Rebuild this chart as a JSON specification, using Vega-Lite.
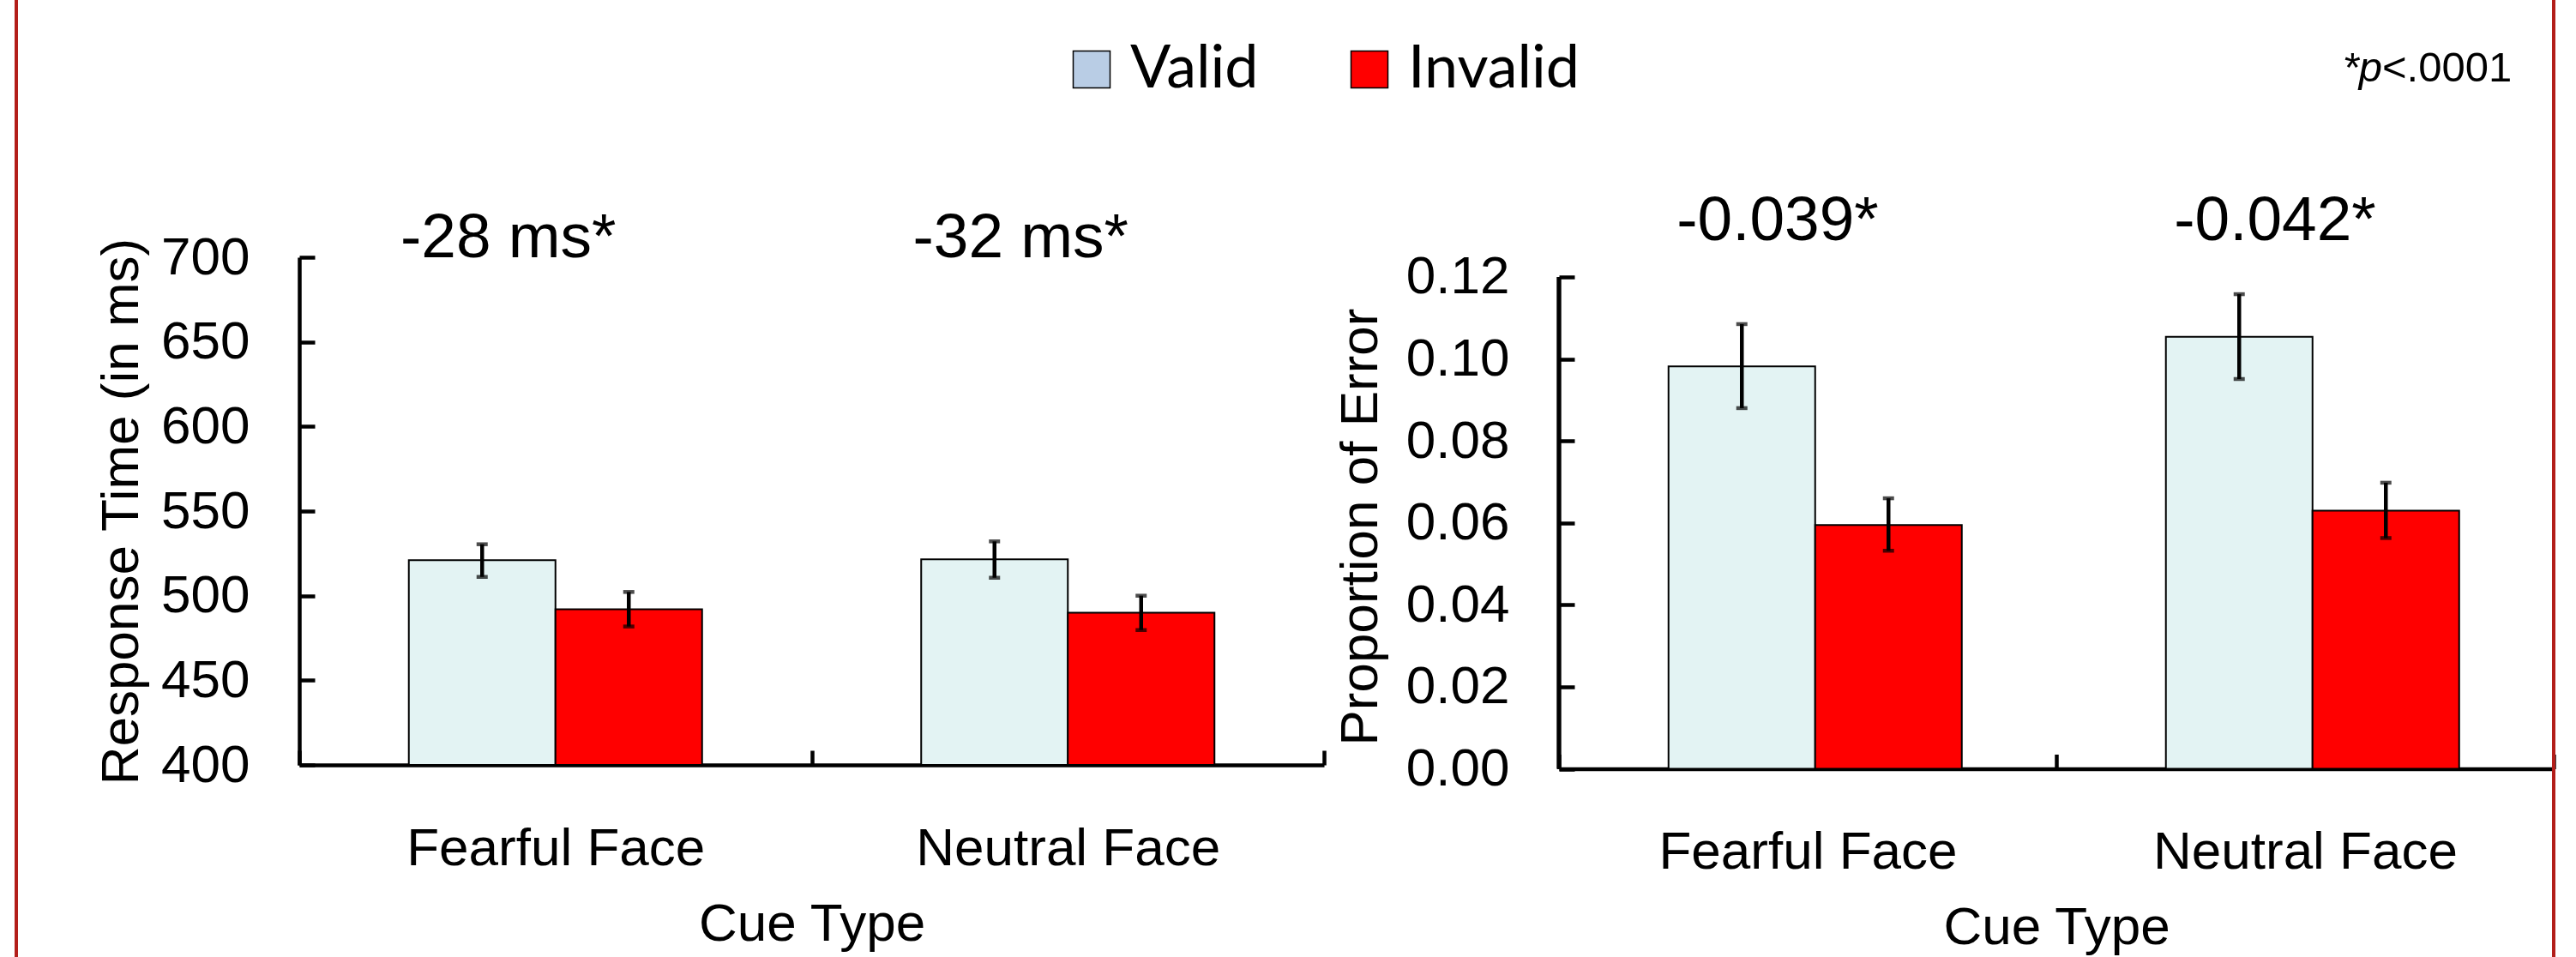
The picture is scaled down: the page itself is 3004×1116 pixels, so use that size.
{
  "$schema": "https://vega.github.io/schema/vega-lite/v6.json",
  "background": "white",
  "autosize": {"type": "pad"},
  "padding": {"left": 17, "top": -40, "right": 28, "bottom": -40},
  "bounds": "flush",
  "spacing": 274,
  "config": {
    "view": {"stroke": null},
    "font": "Liberation Sans",
    "legend": {"strokeWidth": 4},
    "axis": {
      "labelFont": "Liberation Sans",
      "titleFont": "Liberation Sans",
      "labelFontSize": 62,
      "titleFontSize": 62,
      "labelColor": "black",
      "titleColor": "black",
      "titleFontWeight": "normal",
      "domainColor": "black",
      "tickColor": "black",
      "domainWidth": 4.5,
      "tickWidth": 4.5,
      "labelLimit": 0,
      "grid": false
    }
  },
  "datasets": {
    "rt": [
      {"cue": "Fearful Face", "validity": "Valid", "mean": 521, "lo": 511.1, "hi": 530.4},
      {"cue": "Fearful Face", "validity": "Invalid", "mean": 492, "lo": 481.8, "hi": 502.2},
      {"cue": "Neutral Face", "validity": "Valid", "mean": 521.5, "lo": 510.6, "hi": 532.1},
      {"cue": "Neutral Face", "validity": "Invalid", "mean": 490, "lo": 479.7, "hi": 500.0}
    ],
    "err": [
      {"cue": "Fearful Face", "validity": "Valid", "mean": 0.0982, "lo": 0.0880, "hi": 0.1085},
      {"cue": "Fearful Face", "validity": "Invalid", "mean": 0.0595, "lo": 0.0532, "hi": 0.0660},
      {"cue": "Neutral Face", "validity": "Valid", "mean": 0.1054, "lo": 0.0951, "hi": 0.1158},
      {"cue": "Neutral Face", "validity": "Invalid", "mean": 0.0630, "lo": 0.0563, "hi": 0.0698}
    ],
    "rtNotes": [
      {"cue": "Fearful Face", "label": "-28 ms*"},
      {"cue": "Neutral Face", "label": "-32 ms*"}
    ],
    "errNotes": [
      {"cue": "Fearful Face", "label": "-0.039*"},
      {"cue": "Neutral Face", "label": "-0.042*"}
    ],
    "note": [
      {"a": "*p", "b": "<.0001"}
    ]
  },
  "hconcat": [
    {
      "width": 1195,
      "height": 592,
      "data": {"name": "rt"},
      "layer": [
        {
          "mark": {"type": "bar", "stroke": "black", "strokeWidth": 2},
          "encoding": {
            "x": {
              "field": "cue", "type": "nominal",
              "scale": {"domain": ["Fearful Face", "Neutral Face"], "paddingInner": 0, "paddingOuter": 0},
              "axis": {"title": "Cue Type", "labelAngle": 0, "tickBand": "extent", "tickSize": -17, "labelPadding": 84, "titlePadding": 27}
            },
            "xOffset": {
              "field": "validity", "type": "nominal",
              "scale": {"domain": ["Valid", "Invalid"], "paddingOuter": 0.747, "paddingInner": 0}
            },
            "y": {
              "field": "mean", "type": "quantitative",
              "scale": {"domain": [400, 700], "nice": false, "zero": false},
              "axis": {"title": "Response Time (in ms)", "values": [400, 450, 500, 550, 600, 650, 700], "tickSize": -18, "labelPadding": 76, "titlePadding": 14}
            },
            "y2": {"datum": 400},
            "color": {
              "condition": {"test": "datum.validity === 'Valid'", "value": "#E3F3F3"},
              "field": "validity", "type": "nominal",
              "scale": {"domain": ["Valid", "Invalid"], "range": ["#B9CDE5", "#FF0000"]},
              "legend": {
                "orient": "none", "legendX": 889, "legendY": -254,
                "direction": "horizontal", "title": null,
                "labelFont": "Lato", "labelFontSize": 70, "labelColor": "black", "labelLimit": 0,
                "symbolType": "square", "symbolSize": 1849,
                "labelOffset": 10, "columnPadding": 94,
                "encode": {
                  "symbols": {
                    "stroke": {"value": "#333333"},
                    "strokeWidth": {"value": 3},
                    "opacity": {"value": 1}
                  }
                }
              }
            }
          }
        },
        {
          "mark": {"type": "rule", "strokeWidth": 4.5, "color": "black"},
          "encoding": {
            "x": {"field": "cue", "type": "nominal"},
            "xOffset": {"field": "validity", "type": "nominal"},
            "y": {"field": "lo", "type": "quantitative"},
            "y2": {"field": "hi"}
          }
        },
        {
          "mark": {"type": "tick", "size": 13, "thickness": 4.5, "fill": "black", "filled": true},
          "encoding": {
            "x": {"field": "cue", "type": "nominal"},
            "xOffset": {"field": "validity", "type": "nominal"},
            "y": {"field": "lo", "type": "quantitative"},
            "stroke": {
              "field": "mean", "type": "quantitative",
              "scale": {"range": ["rgba(0,0,0,0)", "rgba(0,0,0,0)"]},
              "legend": {
                "orient": "none", "legendX": -330, "legendY": -338,
                "direction": "horizontal", "title": null,
                "gradientLength": 2959, "gradientThickness": 1190,
                "gradientStrokeWidth": 0,
                "labelExpr": "''", "labelFontSize": 1, "labelPadding": 0,
                "padding": 0,
                "strokeColor": "#B31E1A",
                "encode": {
                  "legend": {"strokeWidth": {"value": 4}}
                }
              }
            }
          }
        },
        {
          "mark": {"type": "tick", "size": 13, "thickness": 4.5, "color": "black"},
          "encoding": {
            "x": {"field": "cue", "type": "nominal"},
            "xOffset": {"field": "validity", "type": "nominal"},
            "y": {"field": "hi", "type": "quantitative"}
          }
        },
        {
          "data": {"name": "rtNotes"},
          "mark": {"type": "text", "font": "Liberation Sans", "fontSize": 73, "baseline": "alphabetic", "align": "center", "dx": -55, "color": "black"},
          "encoding": {
            "x": {"field": "cue", "type": "nominal"},
            "y": {"datum": 700},
            "text": {"field": "label"}
          }
        }
      ]
    },
    {
      "width": 1160,
      "height": 596.5,
      "data": {"name": "err"},
      "layer": [
        {
          "mark": {"type": "bar", "stroke": "black", "strokeWidth": 2},
          "encoding": {
            "x": {
              "field": "cue", "type": "nominal",
              "scale": {"domain": ["Fearful Face", "Neutral Face"], "paddingInner": 0, "paddingOuter": 0},
              "axis": {"title": "Cue Type", "labelAngle": 0, "tickBand": "extent", "tickSize": -17, "labelPadding": 84, "titlePadding": 27}
            },
            "xOffset": {
              "field": "validity", "type": "nominal",
              "scale": {"domain": ["Valid", "Invalid"], "paddingOuter": 0.75, "paddingInner": 0}
            },
            "y": {
              "field": "mean", "type": "quantitative",
              "scale": {"domain": [0, 0.12481], "nice": false, "zero": false},
              "axis": {"title": "Proportion of Error", "values": [0, 0.02, 0.04, 0.06, 0.08, 0.1, 0.12], "format": ".2f", "domain": false, "tickSize": -18, "labelPadding": 76, "titlePadding": 21, "titleY": 314}
            },
            "y2": {"datum": 0},
            "color": {
              "condition": {"test": "datum.validity === 'Valid'", "value": "#E3F3F3"},
              "field": "validity", "type": "nominal"
            }
          }
        },
        {
          "mark": {"type": "rule", "strokeWidth": 4.5, "color": "black"},
          "encoding": {
            "x": {"value": 0},
            "y": {"datum": 0},
            "y2": {"datum": 0.12}
          }
        },
        {
          "mark": {"type": "rule", "strokeWidth": 4.5, "color": "black"},
          "encoding": {
            "x": {"field": "cue", "type": "nominal"},
            "xOffset": {"field": "validity", "type": "nominal"},
            "y": {"field": "lo", "type": "quantitative"},
            "y2": {"field": "hi"}
          }
        },
        {
          "mark": {"type": "tick", "size": 13, "thickness": 4.5, "color": "black"},
          "encoding": {
            "x": {"field": "cue", "type": "nominal"},
            "xOffset": {"field": "validity", "type": "nominal"},
            "y": {"field": "lo", "type": "quantitative"}
          }
        },
        {
          "mark": {"type": "tick", "size": 13, "thickness": 4.5, "color": "black"},
          "encoding": {
            "x": {"field": "cue", "type": "nominal"},
            "xOffset": {"field": "validity", "type": "nominal"},
            "y": {"field": "hi", "type": "quantitative"}
          }
        },
        {
          "data": {"name": "errNotes"},
          "mark": {"type": "text", "font": "Liberation Sans", "fontSize": 73, "baseline": "alphabetic", "align": "center", "dx": -35, "color": "black"},
          "encoding": {
            "x": {"field": "cue", "type": "nominal"},
            "y": {"datum": 0.129},
            "text": {"field": "label"}
          }
        },
        {
          "data": {"name": "note"},
          "mark": {"type": "text", "font": "Liberation Sans", "fontSize": 49, "fontStyle": "italic", "baseline": "alphabetic", "align": "right", "dx": -200, "color": "black"},
          "encoding": {
            "x": {"value": "width"},
            "y": {"datum": 0.1677},
            "text": {"field": "a"}
          }
        },
        {
          "data": {"name": "note"},
          "mark": {"type": "text", "font": "Liberation Sans", "fontSize": 49, "baseline": "alphabetic", "align": "left", "dx": -200, "color": "black"},
          "encoding": {
            "x": {"value": "width"},
            "y": {"datum": 0.1677},
            "text": {"field": "b"}
          }
        }
      ]
    }
  ]
}
